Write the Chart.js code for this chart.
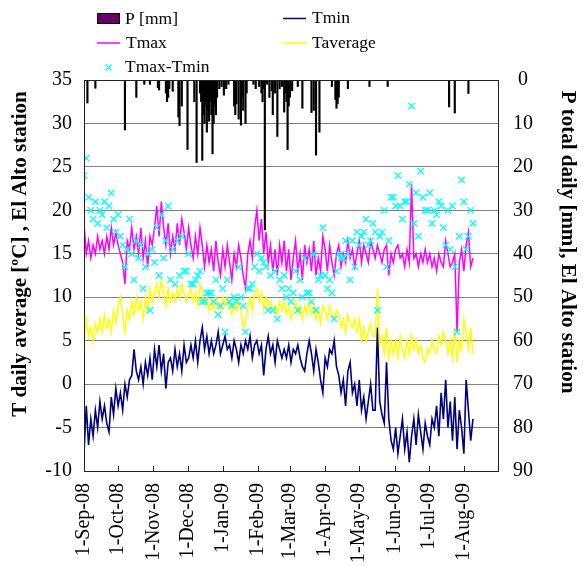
<!DOCTYPE html>
<html><head><meta charset="utf-8">
<script src="https://cdn.jsdelivr.net/npm/chart.js@4.4.1/dist/chart.umd.min.js"></script>
<style>html,body{margin:0;padding:0;background:#fff}#wrap{width:583px;height:566px;position:relative}</style>
</head><body><div id="wrap"><canvas id="c" width="583" height="566"></canvas></div>
<script>
// Month ticks (day index counted from 1-Sep-08)
const monthTicks = [0, 30, 61, 91, 122, 153, 181, 212, 242, 273, 303, 334];
const monthLabels = ['1-Sep-08','1-Oct-08','1-Nov-08','1-Dec-08','1-Jan-09','1-Feb-09','1-Mar-09','1-Apr-09','1-May-09','1-Jun-09','1-Jul-09','1-Aug-09'];
const leftTitle = 'T daily average [\u00baC] , El Alto station';
const rightTitle = 'P total daily [mm], El Alto station';

// Temperature readings sampled every 2nd day from 1-Sep-08 (day 0, 2, 4, ...)
const sampleStep = 2;
const tmin = [
 -8,-2.5,-7,-4,-6,-3,-5,-2,
 -4,-2.5,-4.5,-5.5,-1.5,-3.5,-0.5,-2.5,
 -1,-3,0,-1.5,0.5,1,4,1.5,
 0.5,2,0,2.5,1,3,0.5,4,
 2,4.5,1.5,3.5,-0.5,2.5,3,1.5,
 4,2,3.5,1.5,4.5,2.5,3,4.5,
 3,5,2.5,5,6.5,4,5.5,3.5,
 5,3.5,4.5,6,3.5,4.5,5.5,4,
 4.5,3,5,4,2.5,4.5,3.5,5,
 4,5.5,3,4.5,5,3.5,4.5,1,
 4,5.5,3.5,4.5,2.5,5,4,3,
 4,3,4.5,2.5,4,3.5,4.5,3,
 2,1.5,3.5,5,3.5,1.5,4,2.5,
 0.5,-1,3,2,4,3.5,5,2,
 1,-1,0.5,-2.5,1.5,2.5,-1,0,
 -2.5,0.5,-3,-1.5,-4,-2,0,-3,
 -3,6.5,-2,-3.5,-4.5,2.5,-4,-6.5,
 -7.5,-5,-8,-6,-4,-7.5,-5.5,-9,
 -6,-4,-7,-3.5,-5.5,-7.5,-4.5,-6,
 -7,-4,-5,-2.5,-6,-1,-4,0.5,
 -5,-2,-6.5,-1.5,-7.5,-3,-5,-8,
 0.5,-3,-6.5,-4
];
const tmax = [
 18.5,15,16.5,14.5,16,15,17,15.5,
 16.5,15,17,15.5,18,16,17.5,16,
 15,14,11.5,16.5,15.5,18,15.5,17,
 15,18,14.5,16.5,13.5,17,16,18,
 20.5,17,21,18,16,18.5,15,17,
 15.5,18.5,16,19,17.5,15.5,18,16,
 14.5,17,15,18,16,13.5,16,14,
 15.5,13,16.5,14,12.5,15.5,13.5,16,
 14,12,15,13.5,16,14.5,12.5,11,
 15,16.5,14.5,18,20,16.5,19,15,
 17.5,14,16,13,15.5,12.5,16,14,
 16.5,13,15.5,12,14.5,16.5,13,15,
 12,16,14,15.5,13,16.5,12.5,14.5,
 13,17,15.5,13,16,14,12.5,15,
 16,13.5,15,14,16.5,14.5,15.5,13.5,
 15,16.5,14,16,15,14,16.5,15.5,
 14.5,16,15,14,15.5,16,12.5,15,
 14,15.5,16,14.5,15,13.5,15.5,14,
 23,14.5,15,13.5,15,14,15.5,14,
 15,13.5,14.5,13,15,14,13.5,16.5,
 15,13.5,14,15,6,14,15.5,13,
 16,17.5,13.5,14.5
];
const taverage = [
 5,7.5,5.5,6.5,5,7,6,7.5,
 6,8,6.5,7.5,6,8.5,7,9,
 10,8,6,8.5,7.5,9.5,8,10,
 8.5,9.5,7.5,10,8.5,11,9.5,10.5,
 11.5,10,12,10.5,9,11,9.5,10.5,
 9.5,11,10,11.5,10.5,9.5,10.5,11,
 9.5,10.5,9,11.5,10.5,9,10,8.5,
 9.5,8.5,10,9,8.5,10,9,10,
 9,8,9.5,8.5,9.5,8.5,6.5,7,
 9,10,8.5,10.5,11,9.5,10.5,8.5,
 10,9,9.5,8.5,9,8,9.5,8.5,
 9.5,8,9,7.5,8.5,9.5,8,9,
 7.5,9,8,9.5,8,9,7.5,8.5,
 7,9,8.5,7.5,9,8,7.5,8.5,
 8,6.5,7.5,6,8,7,6.5,7.5,
 6,7.5,5,6.5,5,6,7,5.5,
 5.5,11,4.5,5.5,3.5,6.5,3,5,
 3.5,5,3,5.5,4,3,5,3.5,
 5.5,4,5,3.5,4.5,3,2.5,4,
 3.5,5,4,3.5,5.5,4.5,6,5,
 3.5,5,3,6.5,2.5,5,4,7.5,
 6,4,6.5,3.5
];
const tdiff = [
 24,26,21.5,20,19,21,18.5,20,
 19.5,21,18,20.5,22,19,17.5,19.5,
 17,16,13.5,15.5,19,15,12,16.5,
 14.5,16,11,13.5,15,8.5,15.5,14,
 18,12.5,19.5,14.5,16.5,20.5,12,15.5,
 11.5,16.5,12.5,17,13,13,15,11.5,
 11.5,12,12.5,13,9.5,9.5,10.5,10.5,
 10.5,9.5,12,8,9,11,6,12,
 9.5,9,10,9.5,13.5,10,9,6,
 11,11,11.5,13.5,15,13,14.5,14,
 13.5,8.5,12.5,8.5,13,7.5,12,11,
 12.5,10,11,9.5,10.5,13,8.5,12,
 10,14.5,10.5,10.5,9.5,15,8.5,12,
 12.5,18,12.5,11,12,10.5,7.5,13,
 15,14.5,14.5,16.5,15,12,16.5,13.5,
 17.5,16,17,17.5,19,16,16.5,18.5,
 17.5,8.5,17,17.5,20,13.5,16.5,21.5,
 21.5,20.5,24,20.5,19,21,21,23,
 32,18.5,22,17,24.5,21.5,20,20,
 22,18.5,20,19.5,21,20.5,18,16,
 20,15.5,20.5,13.5,6,17,23.5,21,
 15.5,17,20,18.5
];
// Daily precipitation: rain days (day index) and totals in mm
const precipDays = [3,10,36,46,53,58,65,66,72,73,74,75,78,83,84,86,91,97,99,102,103,104,105,106,107,108,109,110,111,112,113,114,115,116,117,119,121,123,125,127,132,133,134,136,138,139,140,142,143,149,151,154,156,157,158,159,161,163,165,166,168,170,172,174,176,177,178,179,180,181,183,188,192,200,202,204,207,218,221,222,223,224,232,251,267,321,326,338];
const precipMm = [5.3,1.9,11.5,4,1,1,1.8,2.3,3,5,4,2,2.6,8.5,10.5,6,16,5,19,3,5,18.5,8,10,6,12,7,9.5,5,8,17,10,6,8,4,2,1.5,3.5,2,1,6,8,5.5,9,10.4,4,7,10,3,1,2,1.5,3,5,2,34.5,1,4,2.5,8,3,13,2,1.5,7.4,3,5,16,6,4,2.5,1.5,6.5,7.5,7,17.3,12,1.5,4.5,6.5,5.5,4,2,1.5,1.5,6.2,7.6,3.1];

const days = tmin.map((_, i) => i * sampleStep);
const pts = vals => vals.map((v, i) => ({x: days[i], y: v}));
const SERIF = '"Liberation Serif", "Times New Roman", serif';

const COLORS = {P: '#660066', Tmin: '#000080', Tmax: '#ff00ff', Tavg: '#ffff00', Tdiff: '#00ffff'};

const decor = {
  id: 'decor',
  afterDraw(chart) {
    const ctx = chart.ctx, a = chart.chartArea, xs = chart.scales.x;
    ctx.save();
    // frame
    ctx.strokeStyle = '#222'; ctx.lineWidth = 1;
    ctx.strokeRect(Math.round(a.left) + 0.5, Math.round(a.top) + 0.5, Math.round(a.right - a.left), Math.round(a.bottom - a.top));
    // inside month ticks
    ctx.beginPath();
    monthTicks.forEach(v => {
      const px = Math.round(xs.getPixelForValue(v)) + 0.5;
      ctx.moveTo(px, a.bottom); ctx.lineTo(px, a.bottom - 5);
    });
    ctx.stroke();
    // legend
    ctx.font = '17.5px ' + SERIF; ctx.textBaseline = 'middle'; ctx.textAlign = 'left';
    const ds = chart.data.datasets;
    ctx.fillStyle = COLORS.P; ctx.fillRect(97, 13, 23, 11);
    ctx.strokeStyle = '#000'; ctx.strokeRect(97.5, 13.5, 22, 10);
    ctx.fillStyle = '#000'; ctx.fillText(ds[0].label, 125, 19);
    const line = (x, y, c, t) => {
      ctx.strokeStyle = c; ctx.lineWidth = 1.5; ctx.beginPath(); ctx.moveTo(x, y); ctx.lineTo(x + 23, y); ctx.stroke();
      ctx.fillStyle = '#000'; ctx.fillText(t, x + 29, y);
    };
    line(283, 18.5, COLORS.Tmin, ds[1].label);
    line(97, 43, COLORS.Tmax, ds[2].label);
    line(283, 43, COLORS.Tavg, ds[3].label);
    ctx.strokeStyle = COLORS.Tdiff; ctx.lineWidth = 1.2; ctx.beginPath();
    ctx.moveTo(105.5, 64.5); ctx.lineTo(111.5, 70.5); ctx.moveTo(111.5, 64.5); ctx.lineTo(105.5, 70.5); ctx.stroke();
    ctx.fillStyle = '#000'; ctx.fillText(ds[4].label, 125, 67);
    // axis titles
    ctx.font = 'bold 21px ' + SERIF; ctx.textAlign = 'center'; ctx.textBaseline = 'middle';
    ctx.save(); ctx.translate(21, 254); ctx.rotate(-Math.PI / 2); ctx.fillText(leftTitle, 0, 0); ctx.restore();
    ctx.save(); ctx.translate(567, 242); ctx.rotate(Math.PI / 2); ctx.fillText(rightTitle, 0, 0); ctx.restore();
    ctx.restore();
  }
};

new Chart(document.getElementById('c'), {
  type: 'line',
  data: {
    datasets: [
      {type: 'bar', label: 'P [mm]', data: precipDays.map((d, i) => ({x: d, y: precipMm[i]})), yAxisID: 'yP',
       backgroundColor: '#000', borderWidth: 0, barThickness: 1.5, order: 4},
      {label: 'Tmin', data: pts(tmin), borderColor: COLORS.Tmin, borderWidth: 1.6, pointRadius: 0, yAxisID: 'y', order: 3},
      {label: 'Tmax', data: pts(tmax), borderColor: COLORS.Tmax, borderWidth: 1.5, pointRadius: 0, yAxisID: 'y', order: 2},
      {label: 'Taverage', data: pts(taverage), borderColor: COLORS.Tavg, borderWidth: 1.5, pointRadius: 0, yAxisID: 'y', order: 1},
      {label: 'Tmax-Tmin', data: pts(tdiff), showLine: false, borderColor: COLORS.Tdiff, backgroundColor: COLORS.Tdiff,
       pointStyle: 'crossRot', pointRadius: 4.5, pointBorderWidth: 1.3, yAxisID: 'y', order: 0}
    ]
  },
  options: {
    responsive: false, animation: false, devicePixelRatio: 1, events: [],
    layout: {padding: {top: 80, left: 0, right: 0, bottom: 0}},
    plugins: {legend: {display: false}, tooltip: {enabled: false}, title: {display: false}},
    scales: {
      x: {type: 'linear', min: 0, max: 364, offset: false,
          afterBuildTicks: s => { s.ticks = monthTicks.map(v => ({value: v})); },
          afterFit: s => { s.height = 95; },
          grid: {display: false, drawTicks: false, offset: false}, border: {display: false},
          ticks: {autoSkip: false, maxRotation: 90, minRotation: 90, padding: 12, color: '#000',
                  font: {family: SERIF, size: 20},
                  callback: v => { const i = monthTicks.indexOf(v); return i >= 0 ? monthLabels[i] : ''; }}},
      y: {type: 'linear', position: 'left', min: -10, max: 35,
          afterFit: s => { s.width = 84; },
          grid: {color: '#808080', lineWidth: 1, drawTicks: false}, border: {display: false},
          ticks: {stepSize: 5, padding: 12, color: '#000', font: {family: SERIF, size: 20}}},
      yP: {type: 'linear', position: 'right', min: 0, max: 90, reverse: true,
          afterFit: s => { s.width = 85; },
          grid: {display: false, drawTicks: false}, border: {display: false},
          ticks: {stepSize: 10, padding: 15, crossAlign: 'center', color: '#000', font: {family: SERIF, size: 20}}}
    }
  },
  plugins: [decor]
});
</script></body></html>
